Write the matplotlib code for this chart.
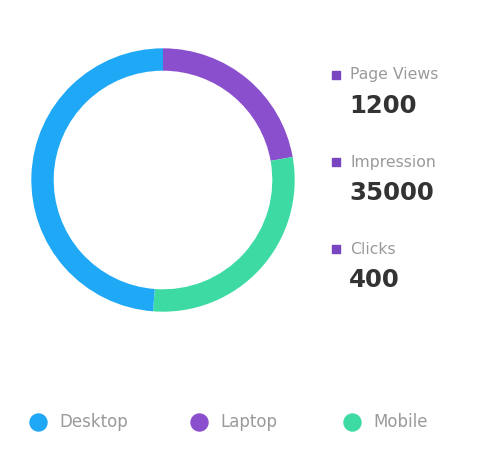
import matplotlib.pyplot as plt

# device share (%), legend order
devices = ["Desktop", "Laptop", "Mobile"]
shares = [48.8, 22.2, 29.0]
colors = ["#1fa8f6", "#8a4fcc", "#3ddba3"]

# stats shown on the right
stat_labels = ["Page Views", "Impression", "Clicks"]
stat_values = [1200, 35000, 400]

W, H = 484, 472
fig = plt.figure(figsize=(W / 100, H / 100), dpi=100)
plt.rcParams["font.family"] = ["DejaVu Sans"]

# donut, drawn clockwise from 12 o'clock: Laptop, Mobile, Desktop
order = [1, 2, 0]
ax = fig.add_axes([30 / W, 1 - 313 / H, 266 / W, 266 / H])
ax.pie([shares[i] for i in order], colors=[colors[i] for i in order],
       startangle=90, counterclock=False, radius=1,
       wedgeprops=dict(width=0.17, linewidth=0))
ax.set_xlim(-1.01, 1.01)
ax.set_ylim(-1.01, 1.01)
ax.set_aspect("equal")
ax.axis("off")

# overlay in pixel coordinates for the text blocks
ov = fig.add_axes([0, 0, 1, 1])
ov.set_xlim(0, W)
ov.set_ylim(H, 0)
ov.axis("off")
ov.patch.set_alpha(0)

y0 = 75
for i, (lab, val) in enumerate(zip(stat_labels, stat_values)):
    y = y0 + i * 87
    ov.scatter(336, y, s=30, marker="s", color="#7a45c0")
    ov.text(350, y, lab, fontsize=11.3, color="#9a9a9a", va="center", ha="left")
    ov.text(349, y + 31, str(val), fontsize=17.6, color="#333333",
            fontweight="bold", va="center", ha="left")

# bottom legend
leg_x = [38, 199, 352]
for x, name, c in zip(leg_x, devices, colors):
    ov.scatter(x, 422, s=150, color=c)
    ov.text(x + 21, 422, name, fontsize=12, color="#9a9a9a", va="center", ha="left")

fig.savefig("out.png", dpi=100, facecolor="white")
